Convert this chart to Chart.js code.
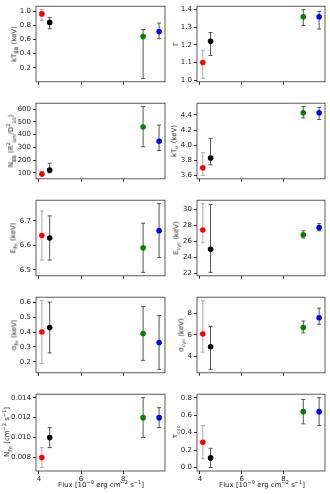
<!DOCTYPE html>
<html>
<head>
<meta charset="utf-8">
<script src="https://cdn.jsdelivr.net/npm/chart.js@4"></script>
<style>
body{margin:0;background:#fff;width:330px;height:494px;position:relative;overflow:hidden;font-family:"DejaVu Sans",sans-serif;}
canvas{position:absolute;}
.yl{position:absolute;font-size:7px;color:#222;white-space:nowrap;transform:translate(-50%,-50%) rotate(-90deg);}
.xl{position:absolute;font-size:7px;color:#222;white-space:nowrap;transform:translateX(-50%);}
sub,sup{font-size:5px;}
</style>
</head>
<body>
<script>
// flux of the four observations
const flux = [4.14, 4.51, 8.95, 9.71];
const colors = ["#ff0000", "#000000", "#008000", "#0000ff"];
const errColors = ["#aaaaaa", "#555555", "#555555", "#555555"];
const xTicks = [4, 6, 8];

// values, lower and upper limits
const kTbb = [0.96, 0.84, 0.64, 0.71];
const kTbbLo = [0.87, 0.75, 0.05, 0.61];
const kTbbHi = [1.02, 0.91, 0.74, 0.83];

const gamma = [1.10, 1.22, 1.36, 1.36];
const gammaLo = [1.01, 1.14, 1.31, 1.29];
const gammaHi = [1.17, 1.27, 1.40, 1.39];

const nbb = [90, 122, 460, 348];
const nbbLo = [80, 100, 305, 275];
const nbbHi = [112, 175, 620, 475];

const kTe = [3.70, 3.83, 4.43, 4.43];
const kTeLo = [3.60, 3.74, 4.36, 4.34];
const kTeHi = [3.90, 4.09, 4.51, 4.50];

const eFe = [6.64, 6.63, 6.59, 6.66];
const eFeLo = [6.54, 6.54, 6.49, 6.55];
const eFeHi = [6.74, 6.72, 6.69, 6.77];

const eCyc = [27.4, 25.0, 26.8, 27.7];
const eCycLo = [25.8, 22.1, 26.4, 27.3];
const eCycHi = [30.7, 30.6, 27.3, 28.2];

const sFe = [0.40, 0.43, 0.39, 0.33];
const sFeLo = [0.19, 0.26, 0.21, 0.15];
const sFeHi = [0.61, 0.60, 0.57, 0.51];

const sCyc = [6.1, 4.9, 6.7, 7.6];
const sCycLo = [4.4, 2.8, 6.2, 7.0];
const sCycHi = [9.2, 6.8, 7.3, 8.5];

const nFe = [0.008, 0.010, 0.012, 0.012];
const nFeLo = [0.007, 0.009, 0.010, 0.011];
const nFeHi = [0.009, 0.011, 0.014, 0.013];

const tau = [0.29, 0.11, 0.64, 0.64];
const tauLo = [0.10, 0.00, 0.50, 0.48];
const tauHi = [0.48, 0.22, 0.78, 0.80];

const panels = [
 {v:kTbb, lo:kTbbLo, hi:kTbbHi, ticks:[0.2,0.4,0.6,0.8,1.0], dec:1, label:"kT<sub>BB</sub> (keV)", lx:15},
 {v:gamma, lo:gammaLo, hi:gammaHi, ticks:[1.0,1.1,1.2,1.3,1.4], dec:1, label:"Γ", lx:176},
 {v:nbb, lo:nbbLo, hi:nbbHi, ticks:[100,200,300,400,500,600], dec:0, label:"N<sub>BB</sub> (R<sup>2</sup><sub>km</sub>/D<sup>2</sup><sub>10</sub>)", lx:11},
 {v:kTe, lo:kTeLo, hi:kTeHi, ticks:[3.6,3.8,4.0,4.2,4.4], dec:1, label:"kT<sub>e</sub> (keV)", lx:175},
 {v:eFe, lo:eFeLo, hi:eFeHi, ticks:[6.5,6.6,6.7], dec:1, label:"E<sub>Fe</sub> (keV)", lx:14},
 {v:eCyc, lo:eCycLo, hi:eCycHi, ticks:[22,24,26,28,30], dec:0, label:"E<sub>cyc</sub> (keV)", lx:177},
 {v:sFe, lo:sFeLo, hi:sFeHi, ticks:[0.2,0.3,0.4,0.5,0.6], dec:1, label:"σ<sub>Fe</sub> (keV)", lx:15},
 {v:sCyc, lo:sCycLo, hi:sCycHi, ticks:[4,6,8], dec:0, label:"σ<sub>cyc</sub> (keV)", lx:182},
 {v:nFe, lo:nFeLo, hi:nFeHi, ticks:[0.008,0.010,0.012,0.014], dec:3, label:"N<sub>Fe</sub> [cm<sup>−2</sup> s<sup>−1</sup>]", lx:7},
 {v:tau, lo:tauLo, hi:tauHi, ticks:[0.0,0.2,0.4,0.6,0.8], dec:1, label:"τ<sub>cyc</sub>", lx:176}
];

/* frame around each plot area */
const boxPlugin = {
 id:"box",
 afterDraw(chart){
  const a = chart.chartArea, c = chart.ctx;
  c.save();
  c.strokeStyle = "#333";
  c.lineWidth = 0.8;
  c.strokeRect(a.left, a.top, a.right - a.left, a.bottom - a.top);
  c.restore();
 }
};

const xmin = 3.86, xmax = 9.99;

panels.forEach((p, k)=>{
 let col = k % 2, row = Math.floor(k / 2);
 let last = row === 4;
 let plotTop = 5 + row * 97, plotH = 78;
 let xh = last ? 15 : 5;
 let cv = document.createElement("canvas");
 let left = col === 0 ? 0 : 160;
 cv.width = 170;
 cv.height = plotH + 5 + xh;
 cv.style.left = left + "px";
 cv.style.top = (plotTop - 5) + "px";
 document.body.appendChild(cv);

 let lo = Math.min(...p.lo), hi = Math.max(...p.hi);
 let pad = (hi - lo) * 0.05;

 let datasets = [];
 flux.forEach((f, i)=>{
  datasets.push({
   data:[{x:f, y:p.lo[i]}, {x:f, y:p.hi[i]}],
   showLine:true,
   borderColor:errColors[i],
   borderWidth:1,
   pointStyle:"line",
   pointRadius:2,
   pointBorderColor:errColors[i],
   pointBorderWidth:1,
   order:1
  });
 });
 datasets.push({
  data:flux.map((f, i)=>({x:f, y:p.v[i]})),
  pointBackgroundColor:colors,
  pointBorderWidth:0,
  pointRadius:2.8,
  order:0
 });

 new Chart(cv, {
  type:"scatter",
  data:{datasets},
  options:{
   responsive:false,
   animation:false,
   layout:{padding:{left:0, right:col === 0 ? 5 : 4, top:5, bottom:0}},
   plugins:{legend:{display:false}, tooltip:{enabled:false}},
   scales:{
    x:{
     min:xmin, max:xmax,
     afterBuildTicks:s=>{ s.ticks = xTicks.map(v=>({value:v})); },
     afterFit:s=>{ s.height = xh; },
     grid:{drawOnChartArea:false, drawTicks:true, tickLength:3, color:"#333"},
     border:{display:false},
     ticks:{display:last, padding:1, color:"#222", font:{size:7, family:"DejaVu Sans"}, callback:v=>v.toFixed(0)}
    },
    y:{
     min:lo - pad, max:hi + pad,
     afterBuildTicks:s=>{ s.ticks = p.ticks.map(v=>({value:v})); },
     afterFit:s=>{ s.width = col === 0 ? 36 : 37; },
     grid:{drawOnChartArea:false, drawTicks:true, tickLength:3, color:"#333"},
     border:{display:false},
     ticks:{padding:2, color:"#222", font:{size:7, family:"DejaVu Sans"}, callback:v=>v.toFixed(p.dec)}
    }
   }
  },
  plugins:[boxPlugin]
 });

 let yl = document.createElement("div");
 yl.className = "yl";
 yl.innerHTML = p.label;
 yl.style.left = p.lx + "px";
 yl.style.top = (plotTop + plotH / 2) + "px";
 document.body.appendChild(yl);

 if(last){
  let xl = document.createElement("div");
  xl.className = "xl";
  xl.innerHTML = "Flux [10<sup>−9</sup> erg cm<sup>−2</sup> s<sup>−1</sup>]";
  xl.style.left = (col === 0 ? 101 : 262) + "px";
  xl.style.top = "479px";
  document.body.appendChild(xl);
 }
});
</script>
</body>
</html>
